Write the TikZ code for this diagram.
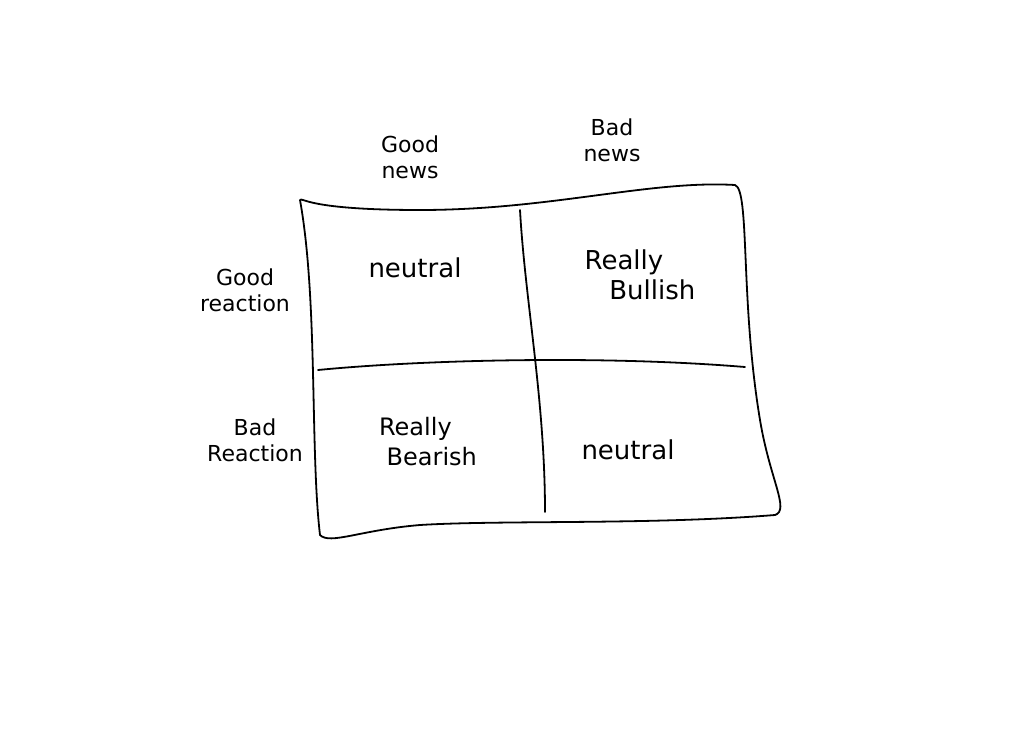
\documentclass[tikz,border=0pt]{standalone}
\usepackage{fontspec}
\setmainfont{DejaVu Sans}
\begin{document}
\begin{tikzpicture}[x=1pt,y=-1pt,
  ink/.style={line width=1.8pt,black,line cap=round,line join=round},
  lbl/.style={font=\fontsize{22}{26}\selectfont,align=center,inner sep=0pt}]
\useasboundingbox[fill=white] (0,0) rectangle (1024,747);
\coordinate (tl) at (300,200);
\coordinate (tr) at (735,185);
\coordinate (br) at (775,515);
\coordinate (bl) at (320,535);
\draw[ink] (tl) .. controls (303,197) and (306,210) .. (420,210) .. controls (550,210) and (650,180) .. (tr)
  .. controls (750,190) and (740,300) .. (760,420) .. controls (770,480) and (790,510) .. (br)
  .. controls (650,525) and (500,520) .. (420,525) .. controls (360,530) and (330,545) .. (bl)
  .. controls (310,450) and (318,300) .. (tl);
\coordinate (vt) at (520,210);
\coordinate (vb) at (545,512);
\draw[ink] (vt) .. controls (525,300) and (545,400) .. (vb);
\coordinate (hl) at (318,370);
\coordinate (hr) at (745,367);
\draw[ink] (hl) .. controls (420,360) and (600,355) .. (hr);
\node[lbl] (gn) at (410,157) {Good\\news};
\node[lbl] (bn) at (612,140) {Bad\\news};
\node[lbl] (gr) at (245,290) {Good\\reaction};
\node[lbl] (br2) at (255,440) {Bad\\Reaction};
\node[lbl,font=\fontsize{26}{30}\selectfont] (n1) at (415,268) {neutral};
\node[lbl,font=\fontsize{26}{30}\selectfont,align=left] (rb) at (640,275) {Really\\\ \ \ Bullish};
\node[lbl,font=\fontsize{24}{30}\selectfont,align=left] (rbe) at (428,442) {Really\\\ Bearish};
\node[lbl,font=\fontsize{26}{30}\selectfont] (n2) at (628,450) {neutral};
\end{tikzpicture}
\end{document}
